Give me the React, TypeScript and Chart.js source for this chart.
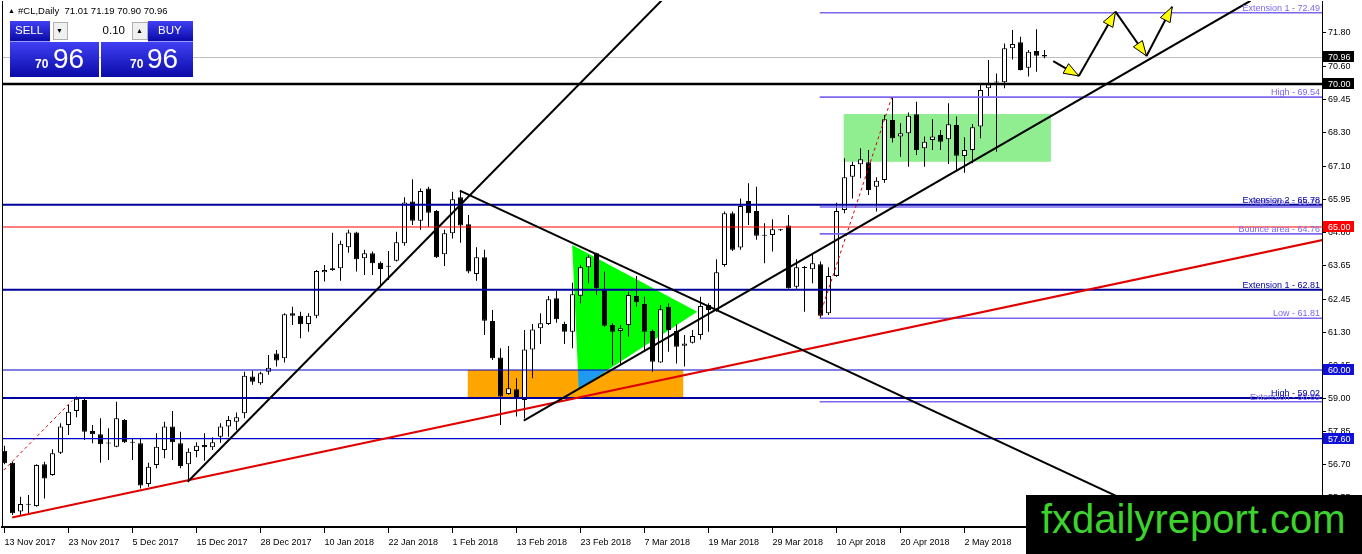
import React, { useEffect, useRef } from "react";
import { Chart, registerables } from "chart.js";

Chart.register(...registerables);

const FONT = "'Liberation Sans', Arial, sans-serif";

// ---------- data ----------
const dateLabels = [
  "13 Nov 2017", "23 Nov 2017", "5 Dec 2017", "15 Dec 2017", "28 Dec 2017",
  "10 Jan 2018", "22 Jan 2018", "1 Feb 2018", "13 Feb 2018", "23 Feb 2018",
  "7 Mar 2018", "19 Mar 2018", "29 Mar 2018", "10 Apr 2018", "20 Apr 2018", "2 May 2018",
];
const dateTickIndex = [0, 8, 16, 24, 32, 40, 48, 56, 64, 72, 80, 88, 96, 104, 112, 120];
const priceTicks = [71.8, 70.6, 69.45, 68.3, 67.1, 65.95, 64.8, 63.65, 62.45, 61.3, 60.15, 59.0, 57.85, 56.7, 55.55];

const opens = [
  57.18, 56.76, 55.05, 55.29, 55.24, 56.70, 56.33, 57.11, 58.08, 58.57,
  58.95, 57.87, 57.75, 57.43, 57.32, 58.25, 57.47, 57.44, 56.01, 56.68,
  57.20, 58.02, 57.44, 56.70, 57.17, 57.38, 57.30, 57.67, 58.02, 58.19,
  58.49, 59.77, 59.54, 59.94, 60.58, 60.41, 61.98, 61.90, 61.61, 61.90,
  63.42, 63.56, 63.56, 64.29, 64.81, 63.91, 64.08, 63.75, 63.62, 63.82,
  64.43, 65.89, 65.22, 66.35, 65.56, 64.05, 64.78, 66.04, 65.10, 63.36,
  63.94, 61.71, 60.44, 59.16, 59.33, 58.95, 60.72, 61.46, 61.61, 62.51,
  61.61, 61.34, 62.60, 63.59, 64.08, 62.82, 61.57, 61.36, 61.57, 62.59,
  62.31, 61.36, 60.26, 62.21, 61.36, 60.85, 60.95, 61.22, 62.27, 62.10,
  63.67, 65.48, 64.28, 65.91, 65.56, 64.70, 64.72, 64.90, 65.05, 62.91,
  63.58, 63.52, 63.70, 61.98, 63.29, 65.59, 66.76, 67.19, 67.26, 66.41,
  66.64, 68.74, 68.16, 68.28, 68.94, 67.75, 68.04, 68.22, 68.07, 68.57,
  67.48, 67.69, 68.51, 69.85, 70.06, 70.06, 71.25, 71.46, 70.57, 71.15,
  71.01,
];
const highs = [
  57.35, 56.80, 55.57, 55.63, 56.70, 56.79, 57.23, 58.14, 58.78, 59.07,
  59.01, 58.08, 58.31, 57.96, 58.89, 58.29, 57.61, 57.61, 56.76, 57.79,
  58.19, 58.57, 57.84, 57.26, 57.47, 57.79, 57.65, 58.14, 58.39, 58.51,
  59.94, 59.97, 59.94, 60.52, 60.70, 61.98, 62.21, 62.04, 61.98, 63.50,
  63.67, 64.80, 64.52, 64.90, 64.83, 64.20, 64.14, 63.79, 64.16, 64.83,
  66.04, 66.67, 66.35, 66.41, 65.59, 64.90, 66.23, 66.25, 65.42, 64.29,
  64.20, 62.10, 60.76, 60.84, 59.71, 61.40, 61.61, 61.98, 62.59, 62.77,
  61.69, 63.05, 63.67, 64.02, 64.10, 63.44, 61.63, 61.57, 62.74, 63.29,
  62.56, 61.42, 62.27, 62.33, 61.61, 61.22, 61.40, 62.56, 62.33, 63.87,
  65.54, 65.54, 66.00, 66.53, 66.41, 65.13, 65.27, 64.93, 65.42, 63.87,
  63.64, 64.08, 63.79, 63.59, 65.85, 67.40, 67.28, 67.75, 67.69, 66.74,
  68.92, 69.54, 68.63, 69.00, 69.38, 68.16, 68.77, 68.39, 69.33, 68.86,
  68.14, 68.60, 70.02, 70.84, 70.37, 71.42, 71.89, 71.65, 71.19, 71.91,
  71.19,
];
const lows = [
  56.70, 54.93, 54.91, 54.99, 55.22, 55.51, 56.30, 57.06, 57.73, 58.35,
  57.55, 57.44, 56.76, 56.85, 57.30, 57.45, 56.85, 55.86, 55.92, 56.56,
  56.91, 56.85, 56.56, 56.09, 56.95, 56.83, 57.20, 57.46, 57.67, 57.90,
  58.31, 59.48, 59.48, 59.83, 60.12, 60.26, 61.57, 61.11, 61.34, 61.81,
  63.09, 63.47, 63.12, 64.10, 63.44, 63.32, 63.32, 62.89, 63.15, 63.79,
  64.34, 65.07, 64.90, 65.01, 63.92, 63.64, 64.60, 64.45, 63.38, 63.12,
  61.22, 60.35, 58.08, 59.13, 58.37, 58.30, 59.71, 60.91, 61.57, 61.65,
  60.91, 60.76, 62.33, 63.03, 62.62, 61.51, 60.17, 60.17, 61.16, 62.21,
  60.70, 59.94, 60.25, 60.64, 60.23, 60.12, 60.93, 61.07, 61.34, 62.04,
  63.61, 64.16, 64.20, 65.07, 64.55, 63.73, 64.14, 64.86, 62.84, 62.84,
  62.04, 63.03, 61.81, 61.92, 63.26, 65.48, 66.00, 66.70, 66.12, 65.54,
  66.55, 67.95, 67.46, 67.11, 67.52, 67.11, 67.69, 67.69, 67.20, 66.93,
  66.90, 67.23, 68.10, 69.56, 67.63, 69.85, 70.86, 70.47, 70.26, 70.43,
  70.90,
];
const closes = [
  56.74, 54.99, 55.31, 55.31, 56.68, 56.21, 57.09, 58.02, 58.54, 58.99,
  57.84, 57.75, 57.40, 57.45, 58.31, 57.47, 57.46, 55.96, 56.62, 57.32,
  58.02, 57.47, 56.64, 57.14, 57.35, 57.30, 57.47, 58.02, 58.25, 58.35,
  59.80, 59.59, 59.89, 60.08, 60.33, 61.95, 61.90, 61.60, 61.90, 63.46,
  63.50, 63.50, 64.41, 64.81, 63.87, 64.08, 63.73, 63.53, 63.61, 64.47,
  65.86, 65.22, 66.26, 65.50, 63.94, 64.78, 65.97, 65.05, 63.44, 63.94,
  61.72, 60.41, 59.07, 59.36, 59.00, 60.72, 61.42, 61.63, 62.47, 61.77,
  61.34, 62.65, 63.59, 63.96, 62.86, 61.55, 61.34, 61.46, 62.62, 62.37,
  61.34, 60.29, 62.12, 61.40, 60.81, 60.93, 61.19, 62.24, 62.10, 63.42,
  65.48, 64.20, 65.73, 65.48, 64.69, 64.69, 64.92, 64.89, 62.86, 63.59,
  63.57, 63.73, 61.90, 63.29, 65.56, 66.74, 67.17, 67.37, 66.29, 66.62,
  68.77, 68.10, 68.28, 68.89, 67.69, 67.98, 68.16, 67.98, 68.59, 67.49,
  67.69, 68.49, 69.79, 69.99, 70.05, 71.25, 71.40, 70.49, 71.13, 70.99,
  70.96,
];

// Fibonacci-style levels (start at a bar index, run to the right edge)
const fiboStart = 101.9;
const fiboPrices = [72.49, 69.54, 65.70, 64.76, 61.81, 58.89];
const fiboLabels = ["Extension 1 - 72.49", "High - 69.54", "High area - 65.70", "Bounce area - 64.76", "Low - 61.81", "Extension - 58.89"];
// Major support / resistance levels (full width)
const majorPrices = [65.78, 62.81, 59.02];
const majorLabels = ["Extension 2 - 65.78", "Extension 1 - 62.81", "High - 59.02"];
const minorPrices = [60.0, 57.6];
const roundLevel = 70.0;
const redLevel = 65.0;
const bidPrice = 70.96;

// Trend lines as [barIndex, price] pairs
const trendBlack = [
  [[22.9, 56.09], [83.3, 73.25]],
  [[56.91, 66.27], [164.75, 52.24]],
  [[64.91, 58.23], [155.75, 72.91]],
];
const trendRed = [[0.96, 54.84], [164.75, 64.545]];
const dottedRed = [
  [[-0.09, 56.5], [8.46, 58.93]],
  [[101.9, 61.89], [110.9, 69.53]],
];
const arrowPath = [[131.09, 70.8], [134.29, 70.28], [138.875, 72.53], [142.75, 70.98], [145.96, 72.7]];
const orangeBoxIdx = [57.91, 84.84];
const orangeBoxPrice = [60.0, 59.02];
const greenBoxIdx = [104.9, 130.8];
const greenBoxPrice = [68.95, 67.28];
const triangle = [[70.96, 64.37], [71.79, 59.34], [86.59, 62.04]];

// ---------- styles ----------
const C_PURPLE = "#7b68ee";
const C_DBLUE = "#00009c";
const C_MBLUE = "#0000c8";

const annotations = {
  id: "annotations",
  beforeDatasetsDraw(chart: any) {
    const { ctx, chartArea: a, scales } = chart;
    const X = (v: number) => scales.x.getPixelForValue(v);
    const Y = (v: number) => scales.y.getPixelForValue(v);
    ctx.save();
    ctx.beginPath();
    ctx.rect(a.left, a.top, a.right - a.left, a.bottom - a.top);
    ctx.clip();
    // bid line
    ctx.strokeStyle = "#c0c0c0";
    ctx.lineWidth = 1;
    ctx.beginPath();
    ctx.moveTo(a.left, Math.round(Y(bidPrice)) + 0.5);
    ctx.lineTo(a.right, Math.round(Y(bidPrice)) + 0.5);
    ctx.stroke();
    // light green box
    ctx.fillStyle = "#90ee90";
    ctx.fillRect(X(greenBoxIdx[0]), Y(greenBoxPrice[0]), X(greenBoxIdx[1]) - X(greenBoxIdx[0]), Y(greenBoxPrice[1]) - Y(greenBoxPrice[0]));
    // orange box
    const ox = X(orangeBoxIdx[0]), oy = Y(orangeBoxPrice[0]);
    const ow = X(orangeBoxIdx[1]) - ox, oh = Y(orangeBoxPrice[1]) - oy;
    ctx.fillStyle = "#ffa500";
    ctx.fillRect(ox, oy, ow, oh);
    // triangle
    const tri = () => {
      ctx.beginPath();
      triangle.forEach((p, i) => (i ? ctx.lineTo(X(p[0]), Y(p[1])) : ctx.moveTo(X(p[0]), Y(p[1]))));
      ctx.closePath();
    };
    ctx.fillStyle = "#00ff00";
    tri();
    ctx.fill();
    ctx.save();
    ctx.beginPath();
    ctx.rect(ox, oy, ow, oh);
    ctx.clip();
    ctx.fillStyle = "#1e9bf0";
    tri();
    ctx.fill();
    ctx.restore();
    ctx.restore();
  },
  afterDatasetsDraw(chart: any) {
    const { ctx, chartArea: a, scales } = chart;
    const X = (v: number) => scales.x.getPixelForValue(v);
    const Y = (v: number) => scales.y.getPixelForValue(v);
    const hline = (price: number, x0: number, color: string, w: number) => {
      const y = Y(price);
      ctx.strokeStyle = color;
      ctx.lineWidth = w;
      ctx.beginPath();
      ctx.moveTo(x0, y);
      ctx.lineTo(a.right, y);
      ctx.stroke();
    };
    const seg = (p: number[], q: number[]) => {
      ctx.beginPath();
      ctx.moveTo(X(p[0]), Y(p[1]));
      ctx.lineTo(X(q[0]), Y(q[1]));
      ctx.stroke();
    };
    ctx.save();
    ctx.beginPath();
    ctx.rect(a.left, a.top, a.right - a.left, a.bottom - a.top);
    ctx.clip();

    // horizontal levels
    minorPrices.forEach((p) => hline(p, a.left, C_MBLUE, 1.2));
    hline(redLevel, a.left, "#ff0000", 1.2);
    majorPrices.forEach((p) => hline(p, a.left, C_DBLUE, 2));
    fiboPrices.forEach((p) => hline(p, X(fiboStart), C_PURPLE, 1.6));
    hline(roundLevel, a.left, "#000000", 2.6);

    // red trend
    ctx.strokeStyle = "#e00000";
    ctx.lineWidth = 2;
    seg(trendRed[0], trendRed[1]);
    // dotted red
    ctx.lineWidth = 1;
    ctx.setLineDash([3, 3]);
    ctx.strokeStyle = "#d00000";
    dottedRed.forEach((s) => seg(s[0], s[1]));
    ctx.setLineDash([]);
    // black trends
    ctx.strokeStyle = "#000";
    ctx.lineWidth = 2;
    trendBlack.forEach((s) => seg(s[0], s[1]));

    // arrows
    for (let i = 0; i < arrowPath.length - 1; i++) {
      const x1 = X(arrowPath[i][0]), y1 = Y(arrowPath[i][1]);
      const x2 = X(arrowPath[i + 1][0]), y2 = Y(arrowPath[i + 1][1]);
      ctx.strokeStyle = "#000";
      ctx.lineWidth = 2;
      ctx.beginPath();
      ctx.moveTo(x1, y1);
      ctx.lineTo(x2, y2);
      ctx.stroke();
      const ang = Math.atan2(y2 - y1, x2 - x1);
      const L = 15, H = 5.5;
      const bx = x2 - L * Math.cos(ang), by = y2 - L * Math.sin(ang);
      ctx.beginPath();
      ctx.moveTo(x2, y2);
      ctx.lineTo(bx + H * Math.sin(ang), by - H * Math.cos(ang));
      ctx.lineTo(bx - H * Math.sin(ang), by + H * Math.cos(ang));
      ctx.closePath();
      ctx.fillStyle = "#ffff00";
      ctx.fill();
      ctx.lineWidth = 1;
      ctx.stroke();
    }

    // labels
    ctx.font = `9px ${FONT}`;
    ctx.textAlign = "right";
    ctx.textBaseline = "alphabetic";
    ctx.fillStyle = C_PURPLE;
    fiboPrices.forEach((p, i) => ctx.fillText(fiboLabels[i], a.right - 2, Y(p) - 2));
    ctx.fillStyle = C_DBLUE;
    majorPrices.forEach((p, i) => ctx.fillText(majorLabels[i], a.right - 2, Y(p) - 2));
    ctx.restore();
  },
  afterDraw(chart: any) {
    const { ctx, chartArea: a, scales } = chart;
    const Y = (v: number) => scales.y.getPixelForValue(v);
    ctx.save();
    ctx.strokeStyle = "#000";
    ctx.lineWidth = 1;
    ctx.beginPath();
    ctx.moveTo(a.left + 0.5, a.top);
    ctx.lineTo(a.left + 0.5, a.bottom);
    ctx.stroke();
    const boxes: [number, string][] = [
      [bidPrice, "#000000"],
      [roundLevel, "#000000"],
      [redLevel, "#ff0000"],
      [minorPrices[0], "#1010d8"],
      [minorPrices[1], "#1010d8"],
    ];
    ctx.font = `9px ${FONT}`;
    ctx.textAlign = "left";
    ctx.textBaseline = "middle";
    boxes.forEach(([p, col]) => {
      const y = Y(p);
      ctx.fillStyle = col;
      ctx.fillRect(a.right + 1, Math.round(y - 5.5), 31, 11);
      ctx.fillStyle = "#fff";
      ctx.fillText(p.toFixed(2), a.right + 6, y + 0.5);
    });
    ctx.restore();
  },
};

const blueGrad = "linear-gradient(#4040f4, #0a0aa8)";

export default function App() {
  const ref = useRef<HTMLCanvasElement>(null);
  useEffect(() => {
    document.body.style.margin = "0";
    const idx = closes.map((_, j) => j);
    const chart = new Chart(ref.current as HTMLCanvasElement, {
      type: "bar",
      data: {
        datasets: [
          {
            label: "body",
            data: idx.map((j) => ({ x: j, y: [opens[j], closes[j]] })) as any,
            backgroundColor: idx.map((j) => (closes[j] > opens[j] ? "#ffffff" : "#000000")),
            borderColor: "#000000",
            borderWidth: 1,
            borderSkipped: false,
            barThickness: 5,
            minBarLength: 1,
            grouped: false,
            inflateAmount: 0,
            order: 0,
          } as any,
          {
            label: "wick",
            data: idx.map((j) => ({ x: j, y: [lows[j], highs[j]] })) as any,
            backgroundColor: "#000000",
            borderWidth: 0,
            barThickness: 1,
            grouped: false,
            inflateAmount: 0,
            order: 1,
          } as any,
        ],
      },
      options: {
        animation: false,
        responsive: false,
        events: [],
        layout: { padding: { left: 2, top: 1, right: 0, bottom: 0 } },
        plugins: { legend: { display: false }, tooltip: { enabled: false } },
        scales: {
          x: {
            type: "linear",
            position: "bottom",
            min: -0.3125,
            max: 164.6875,
            offset: false,
            grid: { display: true, drawOnChartArea: false, drawTicks: true, tickLength: 6, color: "#000", offset: false },
            border: { display: true, color: "#000", width: 2 },
            afterBuildTicks: (s: any) => {
              s.ticks = dateTickIndex.map((v) => ({ value: v }));
            },
            afterFit: (s: any) => {
              s.height = 27;
              s.paddingLeft = 0;
              s.paddingRight = 0;
            },
            ticks: {
              autoSkip: false,
              maxRotation: 0,
              minRotation: 0,
              align: "start",
              padding: 4,
              color: "#000",
              font: { family: FONT, size: 9 },
              callback: (v: any) => {
                const k = dateTickIndex.indexOf(Number(v));
                return k >= 0 ? dateLabels[k] : "";
              },
            },
          } as any,
          y: {
            type: "linear",
            position: "right",
            min: 54.51,
            max: 72.902,
            beginAtZero: false,
            grid: { display: true, drawOnChartArea: false, drawTicks: true, tickLength: 4, color: "#000" },
            border: { display: true, color: "#000", width: 1 },
            afterBuildTicks: (s: any) => {
              s.ticks = priceTicks.map((v) => ({ value: v }));
            },
            afterFit: (s: any) => {
              s.width = 40;
              s.paddingTop = 0;
              s.paddingBottom = 0;
            },
            ticks: {
              padding: 2,
              color: "#000",
              font: { family: FONT, size: 9 },
              callback: (v: any) => Number(v).toFixed(2),
            },
          } as any,
        },
      },
      plugins: [annotations as any],
    });
    return () => chart.destroy();
  }, []);

  const abs = (o: any) => ({ position: "absolute", ...o } as React.CSSProperties);
  const txt = (size: number, extra: any = {}) =>
    ({ position: "absolute", fontFamily: FONT, fontSize: size, lineHeight: `${size}px`, whiteSpace: "pre", ...extra } as React.CSSProperties);

  return (
    <div style={abs({ left: 0, top: 0, width: 1362, height: 554, overflow: "hidden", background: "#fff" })}>
      <canvas ref={ref} width={1362} height={554} style={{ display: "block" }} />
      {/* header */}
      <div style={txt(7, { left: 8, top: 7, color: "#000" })}>▲</div>
      <div style={txt(9.5, { left: 18, top: 6, color: "#000" })}>#CL,Daily  71.01 71.19 70.90 70.96</div>
      {/* one click panel */}
      <div style={abs({ left: 10, top: 21, width: 40, height: 20, background: blueGrad, borderBottom: "1px solid #9a9aff" })} />
      <div style={txt(11.5, { left: 15, top: 25, color: "#fff" })}>SELL</div>
      <div style={abs({ left: 50, top: 21, width: 98, height: 20, background: "#fff" })} />
      <div style={abs({ left: 53, top: 22, width: 13, height: 16, background: "#f0f0f0", border: "1px solid #b0b0b0" })} />
      <div style={txt(7, { left: 56, top: 27, color: "#000" })}>▼</div>
      <div style={txt(11.5, { left: 92, top: 25, width: 33, textAlign: "right", color: "#000" })}>0.10</div>
      <div style={abs({ left: 132, top: 22, width: 14, height: 16, background: "#f0f0f0", border: "1px solid #b0b0b0" })} />
      <div style={txt(7, { left: 136, top: 27, color: "#000" })}>▲</div>
      <div style={abs({ left: 148, top: 21, width: 45, height: 20, background: blueGrad, borderBottom: "1px solid #9a9aff" })} />
      <div style={txt(11.5, { left: 158, top: 25, color: "#fff" })}>BUY</div>
      <div style={abs({ left: 10, top: 42, width: 89, height: 35, background: blueGrad })} />
      <div style={abs({ left: 101, top: 42, width: 92, height: 35, background: blueGrad })} />
      <div style={txt(12, { left: 35, top: 58, color: "#fff", fontWeight: "bold" })}>70</div>
      <div style={txt(28, { left: 53, top: 44.6, color: "#fff" })}>96</div>
      <div style={txt(12, { left: 130, top: 58, color: "#fff", fontWeight: "bold" })}>70</div>
      <div style={txt(28, { left: 147, top: 44.6, color: "#fff" })}>96</div>
      {/* logo */}
      <div style={abs({ left: 1026, top: 495, width: 336, height: 59, background: "#000" })}>
        <div style={txt(40, { left: 15, top: 4, color: "#3cd42c" })}>fxdailyreport.com</div>
      </div>
    </div>
  );
}
